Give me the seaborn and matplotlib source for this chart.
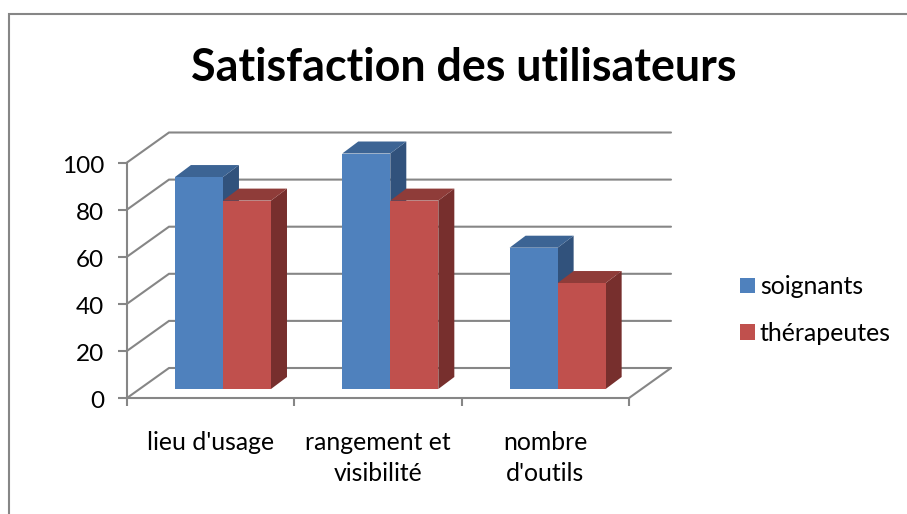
import matplotlib
matplotlib.use("Agg")
import matplotlib.pyplot as plt
import pandas as pd
import seaborn as sns
from matplotlib.lines import Line2D
from matplotlib.patches import Polygon
from matplotlib.transforms import ScaledTranslation

categories = ["lieu d'usage", "rangement et\nvisibilité", "nombre\nd'outils"]
soignants = [90, 100, 60]
therapeutes = [80, 80, 45]
series_names = ["soignants", "thérapeutes"]
y_ticks = [0, 20, 40, 60, 80, 100]

W, H = 907, 514
sns.set_theme(style="white")
plt.rcParams["font.family"] = ["Lato", "DejaVu Sans"]

GRID = "#868686"
FRONT = ["#4F81BD", "#C0504D"]
TOP = ["#3C6494", "#8F3C39"]
SIDE = ["#31527C", "#772F2D"]


def box(x0, y_bottom, x1, y_top):
    return [x0 / W, 1 - y_bottom / H, (x1 - x0) / W, (y_bottom - y_top) / H]


fig = plt.figure(figsize=(W / 100, H / 100), dpi=100, facecolor="white")

# front plane: value axis, category ticks and the walls
ax = fig.add_axes(box(127, 398, 629, 162.5))
ax.set_xlim(-0.5, 2.5)
ax.set_ylim(0, 100)
ax.patch.set_visible(False)
for name, spine in ax.spines.items():
    spine.set_visible(name in ("left", "bottom"))
    spine.set_color(GRID)
    spine.set_linewidth(1.5)

px_x = 3 / (629 - 127)
px_y = 100 / (398 - 162.5)
wall_dx, wall_dy = 42 * px_x, 30 * px_y
for v in y_ticks:
    ax.plot([-0.5, -0.5 + wall_dx, 2.5 + wall_dx], [v, v + wall_dy, v + wall_dy],
            color=GRID, lw=1.5, clip_on=False, solid_joinstyle="miter", zorder=1)
ax.plot([2.5, 2.5 + wall_dx], [0, wall_dy], color=GRID, lw=1.5, clip_on=False, zorder=1)

ax.set_yticks(y_ticks)
ax.set_xticks(range(len(categories)))
ax.set_xticklabels(categories, linespacing=1.39)
ax.set_xticks([-0.5, 0.5, 1.5, 2.5], minor=True)
ax.tick_params(axis="y", length=6.5, width=1.5, color=GRID, labelsize=17.5, pad=10, labelcolor="black", left=True)
ax.tick_params(axis="x", which="major", length=0, pad=24, labelsize=17.8, labelcolor="black")
ax.tick_params(axis="x", which="minor", length=6, width=1.5, color=GRID, bottom=True)
for label in ax.get_yticklabels():
    label.set_transform(label.get_transform() + ScaledTranslation(0, -2 / 100, fig.dpi_scale_trans))

# bars stand a little behind the front plane
ax_bars = fig.add_axes(box(127 + 12.3, 398 - 9, 629 + 12.3, 162.5 - 9))
df = pd.DataFrame({"categorie": categories, series_names[0]: soignants, series_names[1]: therapeutes})
long = df.melt(id_vars="categorie", var_name="groupe", value_name="valeur")
sns.barplot(data=long, x="categorie", y="valeur", hue="groupe", palette=FRONT, width=0.574,
            gap=0, ax=ax_bars, saturation=1, edgecolor="none", linewidth=0, zorder=3)
ax_bars.set_xlim(-0.5, 2.5)
ax_bars.set_ylim(0, 100)
ax_bars.axis("off")

depth_x, depth_y = 16 * px_x, 12 * px_y
for s, container in enumerate(ax_bars.containers):
    for bar in container:
        x0, x1, h = bar.get_x(), bar.get_x() + bar.get_width(), bar.get_height()
        ax_bars.add_patch(Polygon([(x1, 0), (x1 + depth_x, depth_y), (x1 + depth_x, h + depth_y), (x1, h)],
                                  closed=True, fc=SIDE[s], ec="none", zorder=1 + s * 0.5, clip_on=False))
        ax_bars.add_patch(Polygon([(x0, h), (x0 + depth_x, h + depth_y), (x1 + depth_x, h + depth_y), (x1, h)],
                                  closed=True, fc=TOP[s], ec="none", zorder=1 + s * 0.5, clip_on=False))

handles, labels = ax_bars.get_legend_handles_labels()
ax_bars.get_legend().remove()
fig.legend(handles, labels, loc="center left", bbox_to_anchor=(740 / W, 1 - 310 / H), frameon=False,
           fontsize=17.9, labelcolor="black", handlelength=0.6, handleheight=0.6,
           handletextpad=0.2, labelspacing=0.94, borderpad=0, borderaxespad=0)

fig.text(464 / W, 1 - 68 / H, "Satisfaction des utilisateurs", ha="center", va="center",
         fontsize=32.3, fontweight="bold", color="black")

# chart-area border: only top and left are visible in the crop
fig.add_artist(Line2D([9 / W, 9 / W, 1], [0, 1 - 13.5 / H, 1 - 13.5 / H], color=GRID, lw=1.5,
                      transform=fig.transFigure, solid_joinstyle="miter"))

fig.savefig("out.png", dpi=100)
